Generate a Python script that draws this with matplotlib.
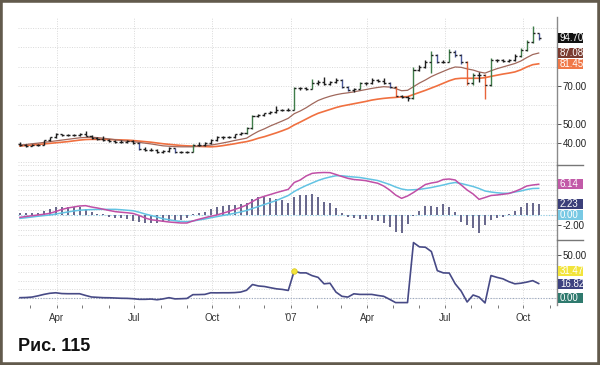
import matplotlib
matplotlib.use("Agg")
import matplotlib.pyplot as plt
import matplotlib.dates as mdates
import matplotlib.transforms as mtransforms
from matplotlib.lines import Line2D
from matplotlib.patches import Rectangle
import numpy as np
import pandas as pd

plt.rcParams['font.family'] = ['Liberation Sans', 'DejaVu Sans']

# ---------------- data ----------------
dates = pd.date_range('2006-02-17', periods=88, freq='7D')

opens = [39.5, 39.0, 38.5, 39.0, 39.2, 41.6, 43.0, 44.6, 44.2, 44.3,
         44.4, 44.6, 44.0, 42.8, 42.0, 41.6, 41.0, 40.4, 40.4, 41.0,
         40.0, 36.8, 36.5, 36.5, 35.2, 35.7, 37.4, 35.2, 35.2, 35.4,
         39.0, 39.0, 40.0, 41.6, 43.0, 43.0, 43.0, 44.6, 45.2, 48.0,
         54.3, 54.6, 55.5, 56.3, 57.3, 57.5, 57.5, 68.6, 68.7, 68.5,
         71.2, 72.0, 71.0, 72.0, 73.0, 69.5, 67.8, 68.5, 71.2, 71.5,
         73.0, 72.5, 71.5, 69.5, 64.6, 64.0, 63.4, 78.2, 80.0, 82.5,
         86.0, 82.5, 82.5, 87.8, 86.0, 82.5, 71.2, 75.6, 75.6, 70.4,
         83.4, 83.2, 83.0, 83.4, 85.5, 88.6, 93.0, 97.4]
highs = [40.5, 39.4, 39.6, 39.8, 41.9, 43.4, 45.3, 45.0, 44.9, 45.0,
         45.4, 46.4, 44.4, 43.3, 43.5, 42.4, 41.9, 41.6, 41.4, 41.6,
         40.4, 37.8, 37.5, 37.0, 36.3, 38.0, 37.6, 35.8, 35.9, 39.6,
         40.6, 40.4, 42.2, 43.5, 43.6, 43.8, 45.0, 45.8, 48.4, 54.8,
         55.4, 56.0, 57.0, 59.2, 58.0, 58.2, 69.6, 69.5, 69.2, 73.5,
         72.8, 74.8, 72.6, 74.0, 73.4, 69.9, 69.0, 72.0, 72.2, 74.0,
         73.6, 74.0, 71.8, 69.8, 65.2, 64.5, 80.0, 81.0, 83.5, 88.0,
         86.6, 83.5, 89.2, 88.6, 86.5, 83.0, 76.5, 77.0, 76.0, 84.6,
         84.2, 83.8, 84.0, 86.5, 89.6, 94.0, 101.0, 97.8]
lows = [38.6, 37.9, 38.3, 38.6, 39.0, 41.2, 42.8, 43.8, 43.7, 43.9,
        44.0, 43.7, 42.4, 41.6, 41.2, 40.6, 40.0, 40.0, 40.1, 39.6,
        36.4, 36.0, 36.0, 34.8, 34.9, 35.4, 34.9, 34.8, 34.8, 35.2,
        38.6, 38.7, 39.6, 41.2, 42.4, 42.5, 42.7, 44.2, 45.0, 47.6,
        53.8, 54.0, 55.0, 55.8, 56.8, 56.9, 57.2, 67.8, 67.6, 68.2,
        70.5, 70.6, 70.2, 71.5, 69.0, 67.0, 66.8, 68.2, 70.6, 71.0,
        71.8, 71.0, 69.0, 64.0, 63.4, 62.2, 63.0, 77.6, 79.5, 76.8,
        81.8, 81.8, 82.2, 85.2, 81.6, 70.2, 70.6, 71.8, 63.0, 70.0,
        82.6, 82.4, 82.3, 82.8, 85.0, 88.0, 92.5, 94.0]
closes = [39.0, 38.5, 39.0, 39.0, 41.6, 43.0, 44.6, 44.3, 44.3, 44.3,
          44.6, 44.0, 42.8, 42.0, 41.6, 41.0, 40.4, 40.4, 41.0, 40.0,
          36.8, 36.5, 36.5, 35.2, 35.7, 37.4, 35.2, 35.2, 35.2, 39.0,
          39.0, 40.0, 41.6, 43.0, 43.0, 43.0, 44.6, 45.2, 48.0, 54.3,
          54.6, 55.5, 56.3, 57.3, 57.5, 57.5, 68.6, 68.7, 68.5, 71.2,
          72.0, 71.0, 72.0, 73.0, 69.5, 67.8, 68.5, 71.2, 71.5, 73.0,
          72.5, 71.5, 69.5, 64.6, 64.0, 63.4, 78.2, 80.0, 82.5, 86.0,
          82.5, 82.5, 87.8, 86.0, 82.5, 71.2, 75.6, 75.6, 70.4, 83.4,
          83.2, 83.0, 83.4, 85.5, 88.6, 93.0, 97.4, 94.7]

ma_fast = [39.0, 39.3, 39.7, 40.0, 40.4, 40.8, 41.2, 41.6, 42.0, 42.4,
           42.8, 43.0, 43.1, 42.9, 42.6, 42.2, 41.8, 41.4, 41.0, 40.8,
           40.4, 40.0, 39.6, 39.1, 38.6, 38.4, 38.2, 38.1, 38.1, 38.1,
           38.4, 38.7, 39.0, 39.5, 40.1, 40.7, 41.4, 42.0, 42.6, 44.5,
           46.2, 47.5, 49.0, 50.3, 51.6, 53.0, 55.4, 56.8, 58.5, 60.5,
           62.3, 63.5, 64.5, 65.3, 65.9, 66.3, 66.8, 67.4, 68.0, 68.6,
           69.1, 69.5, 69.3, 68.5, 67.4, 67.6, 69.5, 71.4, 73.0, 74.8,
           76.2, 77.5, 78.8, 79.8, 79.6, 78.8, 78.2, 77.2, 76.6, 77.8,
           78.9, 79.8, 80.7, 81.6, 82.9, 84.7, 86.3, 87.08]
ma_slow = [38.5, 38.8, 39.0, 39.3, 39.6, 39.9, 40.2, 40.5, 40.8, 41.2,
           41.6, 41.9, 42.0, 42.0, 42.0, 41.9, 41.8, 41.7, 41.6, 41.4,
           41.1, 40.8, 40.5, 40.1, 39.7, 39.4, 39.1, 38.8, 38.6, 38.5,
           38.3, 38.2, 38.1, 38.3, 38.7, 39.2, 39.7, 40.3, 40.8, 41.6,
           42.6, 43.4, 44.4, 45.4, 46.5, 47.7, 49.5, 51.0, 52.6, 54.2,
           55.6, 56.6, 57.6, 58.6, 59.4, 60.0, 60.6, 61.2, 61.8, 62.5,
           63.0, 63.4, 63.7, 63.9, 64.2, 64.3, 65.4, 66.5, 67.6, 68.8,
           70.0, 71.3, 72.6, 73.6, 73.9, 73.9, 73.9, 73.9, 74.2, 74.9,
           75.5, 76.1, 76.6, 77.2, 78.3, 79.8, 81.0, 81.45]

macd = [-0.47, -0.3, -0.15, 0.0, 0.15, 0.33, 0.7, 1.1, 1.4, 1.6,
        1.8, 1.87, 1.6, 1.4, 1.15, 0.9, 0.67, 0.55, 0.45, 0.3,
        -0.1, -0.6, -0.95, -1.1, -1.25, -1.4, -1.5, -1.6, -1.6, -1.2,
        -0.85, -0.55, -0.25, 0.0, 0.35, 0.7, 1.1, 1.5, 2.0, 2.7,
        3.35, 3.75, 4.1, 4.47, 4.8, 5.13, 6.5, 7.0, 7.8, 8.33,
        8.45, 8.5, 8.47, 8.1, 7.7, 7.33, 7.1, 7.0, 6.87, 6.6,
        6.35, 5.8, 5.0, 4.0, 3.33, 3.8, 4.5, 5.3, 6.1, 6.4,
        6.6, 7.1, 7.2, 7.0, 6.0, 5.0, 4.2, 3.13, 3.5, 3.9,
        4.0, 4.15, 4.3, 4.7, 5.2, 5.8, 6.0, 6.14]
signal = [-0.67, -0.55, -0.4, -0.25, -0.12, 0.0, 0.2, 0.4, 0.6, 0.8,
          0.95, 1.03, 1.08, 1.12, 1.13, 1.13, 1.13, 1.05, 0.95, 0.85,
          0.55, 0.2, -0.1, -0.4, -0.75, -0.95, -1.15, -1.3, -1.33, -1.2,
          -1.0, -0.8, -0.55, -0.33, -0.1, 0.1, 0.35, 0.6, 0.9, 1.3,
          1.7, 2.1, 2.5, 2.9, 3.4, 3.9, 4.7, 5.33, 5.9, 6.4,
          6.9, 7.3, 7.6, 7.85, 7.85, 7.7, 7.6, 7.5, 7.3, 7.1,
          6.9, 6.5, 6.1, 5.6, 5.2, 5.0, 5.05, 5.13, 5.3, 5.5,
          5.75, 6.0, 6.3, 6.5, 6.3, 6.0, 5.7, 5.3, 4.8, 4.6,
          4.45, 4.35, 4.35, 4.6, 4.8, 5.1, 5.3, 5.33]
hist = [0.33, 0.33, 0.33, 0.47, 0.87, 1.13, 1.53, 1.67, 1.67, 1.67,
        1.53, 1.2, 0.67, 0.2, 0.2, -0.47, -0.67, -0.67, -0.87, -1.13,
        -1.33, -1.53, -1.67, -1.53, -1.33, -1.13, -1.13, -1.0, -0.67, 0.2,
        0.33, 0.53, 1.13, 1.67, 1.8, 2.0, 2.0, 2.13, 2.33, 3.2,
        3.53, 3.67, 3.33, 3.13, 3.0, 2.47, 3.53, 4.0, 4.0, 4.13,
        3.53, 2.67, 2.33, 1.33, 0.33, -0.47, -0.67, -0.87, -0.87, -1.0,
        -1.2, -1.67, -2.33, -3.33, -3.67, -1.8, -0.2, 0.87, 1.8, 1.8,
        1.67, 2.2, 1.67, 0.67, -1.33, -2.0, -2.67, -3.53, -2.0, -1.0,
        -0.67, -0.33, 0.13, 0.87, 1.67, 2.33, 2.33, 2.23]

indicator = [0.4, 0.6, 1.1, 2.5, 4.2, 5.5, 6.1, 5.2, 5.0, 5.0,
             5.0, 3.0, 1.2, 0.8, 0.4, 0.3, 0.0, -0.3, -0.4, -0.8,
             -1.5, -1.5, -1.2, -2.0, -1.0, 0.4, -1.0, -0.8, -0.5, 3.9,
             4.0, 4.2, 6.1, 6.0, 6.1, 6.1, 6.3, 6.9, 9.0, 15.7,
             14.0, 13.4, 12.0, 10.7, 10.0, 8.8, 31.47, 29.2, 29.2, 26.0,
             24.0, 16.5, 17.2, 6.9, 2.0, 1.1, 4.9, 4.2, 4.2, 4.2,
             3.0, 2.0, -1.5, -5.3, -5.3, -5.3, 64.4, 59.4, 59.0, 54.0,
             31.8, 29.2, 29.0, 16.5, 8.0, -4.6, 3.5, 1.1, -5.7, 26.1,
             24.0, 22.3, 19.0, 16.5, 17.2, 18.5, 20.2, 16.82]
marker_index = 46

xtick_dates = ['2006-04-01', '2006-07-01', '2006-10-01', '2007-01-01',
               '2007-04-01', '2007-07-01', '2007-10-01']
xtick_labels = ['Apr', 'Jul', 'Oct', "'07", 'Apr', 'Jul', 'Oct']

# ---------------- figure ----------------
W, H = 600, 365
fig = plt.figure(figsize=(W / 100, H / 100), dpi=100)
fig.patch.set_facecolor('white')

L, R = 18, 557


def axes_box(top, bottom):
    return [L / W, 1 - bottom / H, (R - L) / W, (bottom - top) / H]


ax1 = fig.add_axes(axes_box(17, 165))
ax2 = fig.add_axes(axes_box(165, 240))
ax3 = fig.add_axes(axes_box(240, 305))
panel_px = {ax1: 148, ax2: 75, ax3: 65}

x = mdates.date2num(dates)
xmin = x[0] - 2.3
xmax = x[-1] + 21.5
qt = mdates.date2num(pd.to_datetime(xtick_dates))

grid_kw = dict(color='#d9d9d9', linestyle=(0, (1, 1.5)), linewidth=0.7, zorder=0)

for ax in (ax1, ax2, ax3):
    ax.set_xlim(xmin, xmax)
    for s in ('top', 'left', 'bottom'):
        ax.spines[s].set_visible(False)
    ax.spines['right'].set_color('#8a8a8a')
    ax.spines['right'].set_linewidth(1.0)
    ax.yaxis.tick_right()
    ax.tick_params(axis='y', direction='out', length=3, width=0.7, colors='#555555',
                   labelsize=7, pad=1, labelcolor='#222222')
    ax.set_xticks(qt)
    ax.tick_params(axis='x', length=0, labelbottom=False)
    for q in qt:
        ax.axvline(q, **grid_kw)
    ax.set_facecolor('white')

# --- price panel ---
ax1.set_ylim(28.6, 105.9)
for v in range(30, 101, 10):
    ax1.axhline(v, **grid_kw)

tick_half = 2.4
for xi, o, h, l, c in zip(x, opens, highs, lows, closes):
    d = c - o
    if d > 2.5:
        col = '#3f7d4a'
    elif d < -4.0:
        col = '#e8643a'
    elif d < -1.5:
        col = '#4c5a9c'
    else:
        col = '#1e1e1e'
    ax1.vlines(xi, l, h, color=col, linewidth=1.0, zorder=3)
    ax1.hlines(o, xi - tick_half, xi, color='#1e1e1e', linewidth=1.0, zorder=3)
    ax1.hlines(c, xi, xi + tick_half, color='#1e1e1e', linewidth=1.0, zorder=3)

ax1.plot(x, ma_slow, color='#f07040', linewidth=1.2, zorder=2)
ax1.plot(x, ma_fast, color='#a0685c', linewidth=0.9, zorder=2)
ax1.set_yticks([40, 50, 70])
ax1.set_yticklabels(['40.00', '50.00', '70.00'])

# --- MACD panel ---
ax2.set_ylim(-5, 10)
for v in range(-5, 11):
    ax2.axhline(v, **grid_kw)
ax2.axhline(0, color='#8fd0e8', linestyle=(0, (1, 1.5)), linewidth=0.8, zorder=1)
ax2.vlines(x, 0, hist, color='#5a5a82', linewidth=1.3, zorder=2)
ax2.plot(x, signal, color='#62c3e3', linewidth=1.1, zorder=3)
ax2.plot(x, macd, color='#c04fa6', linewidth=1.1, zorder=4)
ax2.set_yticks([-2])
ax2.set_yticklabels(['-2.00'])

# --- bottom indicator panel ---
ax3.set_ylim(-8.1, 67.4)
for v in range(0, 61, 10):
    ax3.axhline(v, **grid_kw)
ax3.axhline(0, color='#9aa8c0', linestyle=(0, (1, 1.5)), linewidth=0.8, zorder=1)
ax3.plot(x, indicator, color='#474a86', linewidth=1.2, zorder=3)
ax3.plot(x[marker_index], indicator[marker_index], 'o', color='#f2e23a',
         markersize=4, markeredgecolor='#d8c820', markeredgewidth=0.5, zorder=4)
ax3.set_yticks([50])
ax3.set_yticklabels(['50.00'])

ax3.tick_params(axis='x', labelbottom=True, labelsize=7,
                labelcolor='#333333', pad=3)
ax3.set_xticklabels(xtick_labels)
ax3.xaxis.set_minor_locator(mdates.MonthLocator())
ax3.tick_params(axis='x', which='minor', length=2.5, width=0.7, colors='#777777',
                direction='out')
ax3.tick_params(axis='x', which='major', length=2.5, width=0.7, color='#777777',
                direction='out')


# ---------------- right-hand value boxes (fixed width) ----------------
def value_box(ax, val, fc, tc='white'):
    lo, hi = ax.get_ylim()
    unit_per_px = (hi - lo) / panel_px[ax]
    bh = 10 * unit_per_px
    trans = mtransforms.blended_transform_factory(ax.transAxes, ax.transData)
    x0 = (558 - L) / (R - L)
    bw = 25 / (R - L)
    ax.add_patch(Rectangle((x0, val - bh / 2), bw, bh, transform=trans,
                           facecolor=fc, edgecolor='none', clip_on=False, zorder=9))
    ax.text(x0 + 2 / (R - L), val, f'{val:.2f}', transform=trans, ha='left',
            va='center', fontsize=7, color=tc, clip_on=False, zorder=10)


value_box(ax1, closes[-1], '#111111')
value_box(ax1, ma_fast[-1], '#7a3b30')
value_box(ax1, ma_slow[-1], '#f07848')
value_box(ax2, macd[-1], '#c25aa8')
value_box(ax2, hist[-1], '#3b3f7a')
value_box(ax2, 0.0, '#78c9e4')
value_box(ax3, indicator[marker_index], '#f2e43a')
value_box(ax3, indicator[-1], '#3d4280')
value_box(ax3, 0.0, '#2f7a6e')

# panel separators in the label column
for yy in (165, 240):
    fig.add_artist(Line2D([R / W, 583 / W], [1 - yy / H, 1 - yy / H],
                          transform=fig.transFigure, color='#777777', linewidth=1.0))

# caption
fig.text(18 / W, 1 - 351 / H, 'Рис. 115', fontsize=13, fontweight='bold',
         ha='left', va='baseline', color='#111111')

# frame
fig.add_artist(Rectangle((0, 0), 1, 1, transform=fig.transFigure, fill=False,
                         edgecolor='#625a4c', linewidth=4))

fig.savefig('out.png', dpi=100)
